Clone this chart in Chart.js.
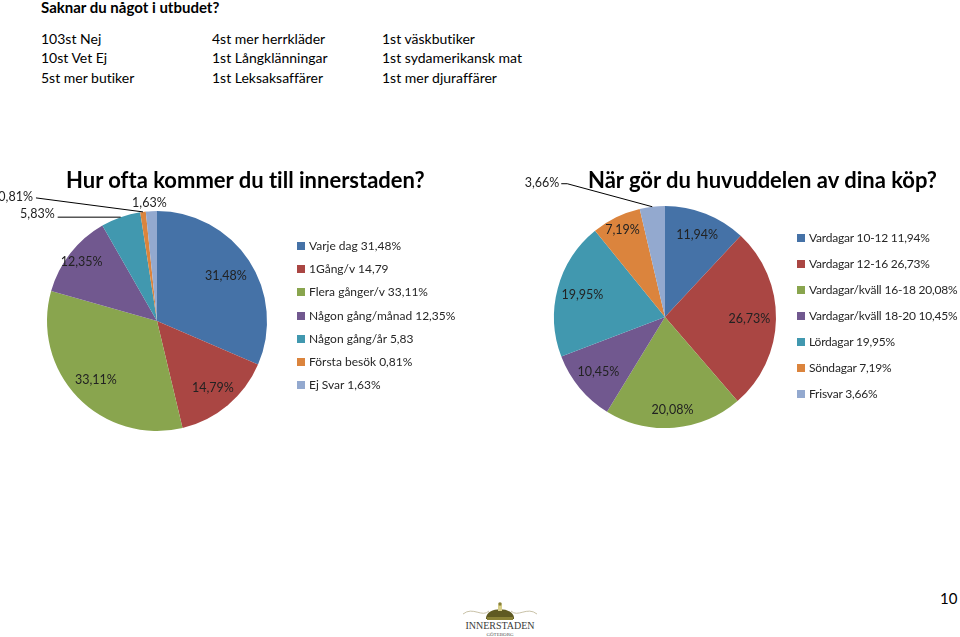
<!DOCTYPE html>
<html lang="sv">
<head>
<meta charset="utf-8">
<title>Innerstaden – enkät</title>
<script src="https://cdn.jsdelivr.net/npm/chart.js@4/dist/chart.umd.min.js"></script>
<style>
  body { margin: 0; background: #fff; font-family: Lato, "Noto Sans", sans-serif; color: #000; font-variant-ligatures: none; }
  #page { position: relative; width: 960px; height: 637px; overflow: hidden; }
  .t { position: absolute; white-space: nowrap; line-height: 1.1; }
  canvas { position: absolute; }
  .title { font-weight: bold; font-size: 22px; z-index: 2; }
  .legend { position: absolute; font-size: 12px; color: #262626; }
  .legend div { position: absolute; white-space: nowrap; line-height: 1; }
  .legend span { display: inline-block; width: 8px; height: 8px; margin-right: 4px; vertical-align: 0px; }
  #buyLegend { letter-spacing: -0.2px; }
</style>
</head>
<body>
<div id="page">
  <div class="t" style="left:41px;top:-1px;font-size:15px;font-weight:bold">Saknar du något i utbudet?</div>
  <div id="missing"></div>

  <div class="t title" style="left:66px;top:168px">Hur ofta kommer du till innerstaden?</div>
  <div class="t title" style="left:588px;top:168px">När gör du huvuddelen av dina köp?</div>

  <canvas id="visitChart" width="480" height="270" style="left:0;top:180px"></canvas>
  <canvas id="buyChart" width="460" height="270" style="left:500px;top:170px"></canvas>

  <div class="legend" id="visitLegend" style="left:297px;top:0"></div>
  <div class="legend" id="buyLegend" style="left:797px;top:0"></div>

  <div class="t" style="left:940px;top:590px;font-size:15px">10</div>

  <svg style="position:absolute;left:458px;top:601px" width="84" height="36" viewBox="0 0 84 36">
    <path d="M5 13 C15 5, 24 17, 31 10" stroke="#c9c2a8" stroke-width="1" fill="none"/>
    <path d="M79 13 C69 5, 60 17, 53 10" stroke="#c9c2a8" stroke-width="1" fill="none"/>
    <path d="M28 18 C27 5, 57 5, 56 18 Z" fill="#5f5a22"/>
    <rect x="29" y="16" width="26" height="3" fill="#8a8236"/>
    <rect x="40" y="4" width="4" height="6" fill="#d8cf8a"/>
    <circle cx="42" cy="3" r="1.8" fill="#8a8236"/>
    <text x="42" y="28" text-anchor="middle" font-family="Liberation Serif, serif" font-size="10" fill="#3a3a3a">INNERSTADEN</text>
    <text x="42" y="35" text-anchor="middle" font-family="Liberation Serif, serif" font-size="5" fill="#555">GÖTEBORG</text>
  </svg>
</div>

<script>
// "Saknar du något i utbudet?" - three columns of answers
const missingCol1 = ["103st Nej", "10st Vet Ej", "5st mer butiker"];
const missingCol2 = ["4st mer herrkläder", "1st Långklänningar", "1st Leksaksaffärer"];
const missingCol3 = ["1st väskbutiker", "1st sydamerikansk mat", "1st mer djuraffärer"];

// Hur ofta kommer du till innerstaden?
const visitLabels = ["Varje dag 31,48%", "1Gång/v 14,79", "Flera gånger/v 33,11%", "Någon gång/månad 12,35%",
                     "Någon gång/år 5,83", "Första besök 0,81%", "Ej Svar 1,63%"];
const visitValues = [31.48, 14.79, 33.11, 12.35, 5.83, 0.81, 1.63];

// När gör du huvuddelen av dina köp?
const buyLabels = ["Vardagar 10-12 11,94%", "Vardagar 12-16 26,73%", "Vardagar/kväll 16-18 20,08%",
                   "Vardagar/kväll 18-20 10,45%", "Lördagar 19,95%", "Söndagar 7,19%", "Frisvar 3,66%"];
const buyValues = [11.94, 26.73, 20.08, 10.45, 19.95, 7.19, 3.66];

const palette = ['#4572A7', '#AA4643', '#89A54E', '#71588F', '#4198AF', '#DB843D', '#93A9CF'];

// header text columns
const colX = [41, 212, 382];
const rowY = [31, 50, 70];
[missingCol1, missingCol2, missingCol3].forEach((col, c) => {
  col.forEach((txt, r) => {
    const d = document.createElement('div');
    d.className = 't';
    d.style.cssText = `left:${colX[c]}px;top:${rowY[r]}px;font-size:14px`;
    d.textContent = txt;
    document.getElementById('missing').appendChild(d);
  });
});

function buildLegend(id, labels, top, step) {
  const box = document.getElementById(id);
  labels.forEach((txt, i) => {
    const d = document.createElement('div');
    d.style.top = (top + i * step) + 'px';
    d.innerHTML = `<span style="background:${palette[i]}"></span>`;
    d.appendChild(document.createTextNode(txt));
    box.appendChild(d);
  });
}
buildLegend('visitLegend', visitLabels, 240, 23.2);
buildLegend('buyLegend', buyLabels, 232, 26);

const fmt = v => v.toFixed(2).replace('.', ',') + '%';

// percentage labels, placed from the arc geometry
const sliceLabels = {
  id: 'sliceLabels',
  afterDatasetsDraw(chart, args, opts) {
    const ctx = chart.ctx;
    const meta = chart.getDatasetMeta(0);
    const values = chart.data.datasets[0].data;
    ctx.save();
    ctx.font = '12.5px Lato';
    ctx.fillStyle = '#222';
    ctx.strokeStyle = '#000';
    ctx.lineWidth = 1;
    meta.data.forEach((arc, i) => {
      const p = arc.getProps(['x', 'y', 'startAngle', 'endAngle', 'outerRadius'], true);
      const mid = (p.startAngle + p.endAngle) / 2;
      const text = fmt(values[i]);
      const out = opts.outside[i];
      if (out) {
        const ex = p.x + Math.cos(mid) * p.outerRadius;
        const ey = p.y + Math.sin(mid) * p.outerRadius;
        if (out.line) {
          ctx.beginPath();
          ctx.moveTo(ex, ey);
          out.line.forEach(([dx, dy]) => ctx.lineTo(ex + dx, ey + dy));
          ctx.stroke();
        }
        ctx.textAlign = out.align;
        ctx.textBaseline = 'middle';
        ctx.fillText(text, ex + out.text[0], ey + out.text[1]);
      } else {
        const f = opts.radial[i];
        ctx.textAlign = 'center';
        ctx.textBaseline = 'middle';
        ctx.fillText(text, p.x + Math.cos(mid) * p.outerRadius * f, p.y + Math.sin(mid) * p.outerRadius * f);
      }
    });
    ctx.restore();
  }
};

function pie(id, values, labels, padding, radial, outside) {
  return new Chart(document.getElementById(id), {
    type: 'pie',
    data: {
      labels: labels,
      datasets: [{ data: values, backgroundColor: palette, borderWidth: 0, hoverOffset: 0 }]
    },
    options: {
      responsive: false,
      animation: false,
      layout: { padding: padding },
      plugins: {
        legend: { display: false },
        tooltip: { enabled: false },
        sliceLabels: { radial: radial, outside: outside }
      }
    },
    plugins: [sliceLabels]
  });
}

pie('visitChart', visitValues, visitLabels,
  { left: 47, top: 31, right: 213, bottom: 19 },
  [0.75, 0.79, 0.77, 0.87],
  {
    4: { line: [[-63, 0]], text: [-66, -3], align: 'right' },
    5: { line: [[-107, -14]], text: [-110, -15], align: 'right' },
    6: { text: [-2, -8], align: 'center' }
  });

pie('buyChart', buyValues, buyLabels,
  { left: 54, top: 36, right: 184, bottom: 12 },
  [0.79, 0.76, 0.84, 0.78, 0.77, 0.87],
  {
    6: { line: [[-85, -23], [-91, -23]], text: [-93, -24], align: 'right' }
  });
</script>
</body>
</html>
